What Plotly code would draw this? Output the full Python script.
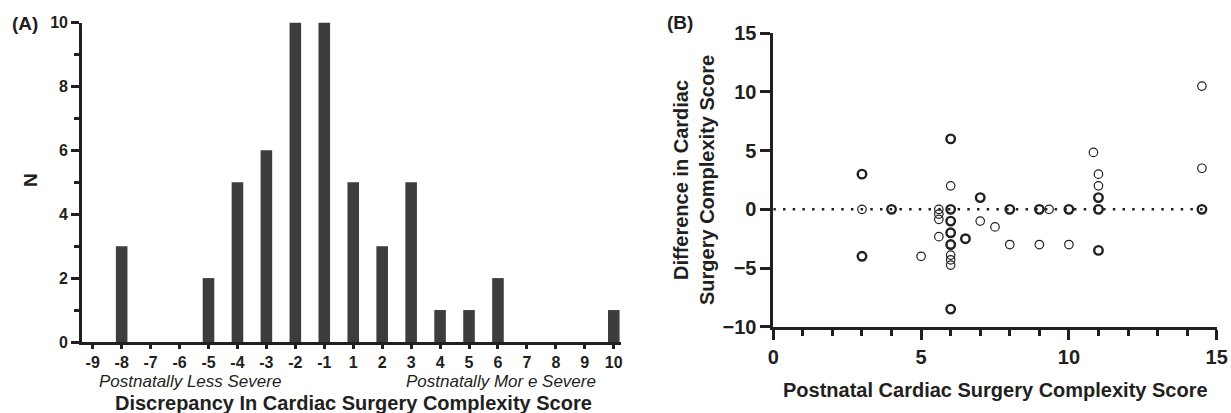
import plotly.graph_objects as go

# ---------------- Data ----------------
# Panel A: histogram of discrepancy
disc_categories = ["-9", "-8", "-7", "-6", "-5", "-4", "-3", "-2", "-1",
                   "1", "2", "3", "4", "5", "6", "7", "8", "9", "10"]
disc_counts = [0, 3, 0, 0, 2, 5, 6, 10, 10, 5, 3, 5, 1, 1, 2, 0, 0, 0, 1]

# Panel B: postnatal score vs difference (count = overlapping points)
post_score = [3, 3, 3, 4, 5, 5.6, 5.6, 5.6, 5.6, 6, 6, 6, 6, 6, 6, 6, 6, 6, 6,
              6.5, 7, 7, 7.5, 8, 8, 9, 9.33, 9, 10, 10, 10.83, 11, 11, 11, 11, 11,
              14.5, 14.5, 14.5]
difference = [3, 0, -4, 0, -4, 0, -0.4, -0.85, -2.33, 6, 2, 0, -1, -2, -3, -3.9, -4.3, -4.75, -8.5,
              -2.5, 1, -1, -1.5, 0, -3, 0, 0, -3, 0, -3, 4.85, 3, 2, 1, 0, -3.5,
              10.5, 3.5, 0]
point_count = [2, 1, 2, 2, 1, 1, 1, 1, 1, 2, 1, 2, 2, 2, 2, 1, 1, 1, 2,
               2, 2, 1, 1, 2, 1, 2, 1, 1, 2, 1, 1, 1, 1, 2, 2, 2,
               1, 1, 2]
ref_line_y = 0

W, H = 1231, 413
INK = "#231f20"
FONT = "Liberation Sans, Arial, sans-serif"


def px(x):
    return x / W


def py(y):
    return 1 - y / H


fig = go.Figure()

fig.add_trace(go.Bar(
    x=disc_categories, y=disc_counts,
    marker=dict(color="#3d3d3d", line=dict(width=0)),
    width=0.4, xaxis="x", yaxis="y", showlegend=False,
))

fig.add_trace(go.Scatter(
    x=post_score, y=difference, mode="markers",
    marker=dict(symbol="circle-open", size=8.5, color=INK,
                line=dict(color=INK, width=[1.2 if c == 1 else 2.4 for c in point_count])),
    xaxis="x2", yaxis="y2", showlegend=False,
))

fig.add_shape(type="line", xref="x2", yref="y2", x0=0, x1=14.6,
              y0=ref_line_y, y1=ref_line_y,
              line=dict(color=INK, width=2.5, dash="2.5px,7.2px"), layer="below")

axis_common = dict(showline=True, linecolor=INK, linewidth=2.7, showgrid=False,
                   zeroline=False, ticks="outside", tickcolor=INK, tickwidth=2.5,
                   automargin=False)

fig.update_layout(
    width=W, height=H,
    margin=dict(l=0, r=0, t=0, b=0, autoexpand=False),
    paper_bgcolor="white", plot_bgcolor="white",
    font=dict(family=FONT, color=INK),
    xaxis=dict(**axis_common, domain=[px(82), px(621)], anchor="y",
               type="category", range=[-0.37, 18.25], ticklen=4,
               tickfont=dict(size=16, family=FONT, color=INK, weight="bold")),
    yaxis=dict(**axis_common, domain=[py(342), py(22.5)], anchor="x",
               range=[0, 10], dtick=2, ticklen=8,
               tickfont=dict(size=16, family=FONT, color=INK, weight="bold"),
               minor=dict(dtick=1, ticks="outside", ticklen=5, tickwidth=2.5, tickcolor=INK)),
    xaxis2=dict(**axis_common, domain=[px(773.3), px(1216.7)], anchor="y2",
                range=[0, 15], dtick=5, ticklen=10, ticklabeloverflow="allow",
                tickfont=dict(size=20, family=FONT, color=INK, weight="bold"),
                minor=dict(dtick=1, ticks="outside", ticklen=6, tickwidth=2.5, tickcolor=INK)),
    yaxis2=dict(**axis_common, domain=[py(326.7), py(33.3)], anchor="x2",
                range=[-10, 15], dtick=5, ticklen=10,
                tickfont=dict(size=20, family=FONT, color=INK, weight="bold")),
)

ann = [
    dict(text="<b>(A)</b>", x=px(25), y=py(23), size=19, angle=0),
    dict(text="<b>N</b>", x=px(30), y=py(180), size=19, angle=-90),
    dict(text="<i>Postnatally Less Severe</i>", x=px(190), y=py(381), size=17, angle=0),
    dict(text="<i>Postnatally Mor e Severe</i>", x=px(501), y=py(381), size=17, angle=0),
    dict(text="<b>Discrepancy In Cardiac Surgery Complexity Score</b>", x=px(353), y=py(403), size=20, angle=0),
    dict(text="<b>(B)</b>", x=px(680), y=py(22), size=19, angle=0),
    dict(text="<b>Difference in Cardiac<br>Surgery Complexity Score</b>", x=px(694), y=py(180), size=20, angle=-90),
    dict(text="<b>Postnatal Cardiac Surgery Complexity Score</b>", x=px(995), y=py(390), size=20, angle=0),
]
for a in ann:
    fig.add_annotation(text=a["text"], x=a["x"], y=a["y"], xref="paper", yref="paper",
                       xanchor="center", yanchor="middle", showarrow=False,
                       textangle=a["angle"], font=dict(size=a["size"], family=FONT, color=INK))

# remove the browser's default 8px body margin so the figure fills the window exactly
fig.write_html("out.html", config={"displayModeBar": False},
               post_script="document.body.style.margin='0px';document.body.style.overflow='hidden';")
